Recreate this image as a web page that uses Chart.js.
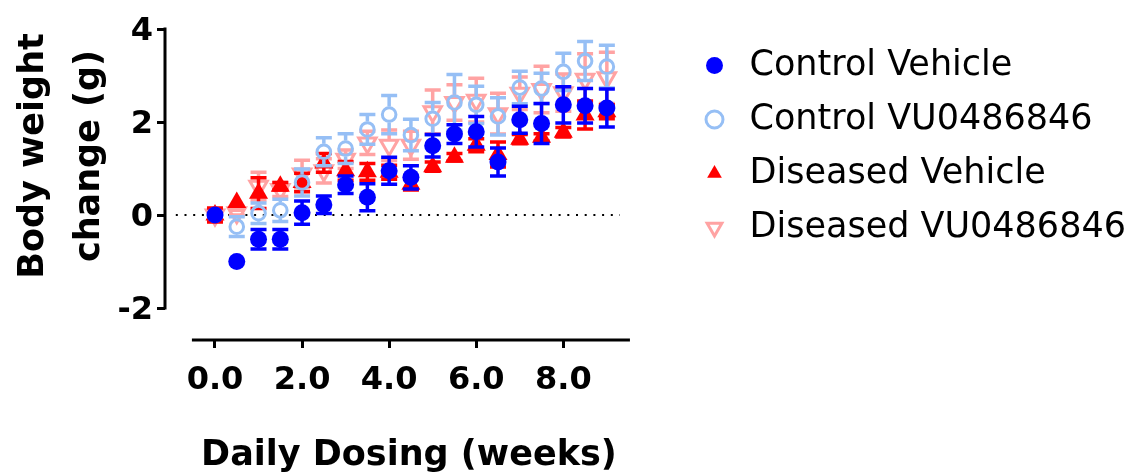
<!DOCTYPE html>
<html>
<head>
<meta charset="utf-8">
<script src="https://cdn.jsdelivr.net/npm/chart.js@4.4.1/dist/chart.umd.min.js"></script>
<style>
  html, body { margin: 0; padding: 0; background: #fff; }
  .chart-wrapper { position: relative; width: 1132px; height: 473px; }
</style>
</head>
<body>
<div class="chart-wrapper"><canvas id="weight-chart"></canvas></div>
<script>
// weeks of daily dosing
const weeks = [0, 0.5, 1, 1.5, 2, 2.5, 3, 3.5, 4, 4.5, 5, 5.5, 6, 6.5, 7, 7.5, 8, 8.5, 9];

// mean body weight change (g) and SEM
const ctrlVehicleMean = [0, -1.0, -0.52, -0.52, 0.05, 0.22, 0.65, 0.38, 0.95, 0.81, 1.49, 1.74, 1.79, 1.14, 2.05, 1.97, 2.37, 2.35, 2.30];
const ctrlVehicleSem = [0, 0, 0.21, 0.21, 0.25, 0.19, 0.19, 0.29, 0.29, 0.25, 0.24, 0.2, 0.33, 0.3, 0.29, 0.43, 0.39, 0.37, 0.41];

const ctrlDrugMean = [0, -0.25, 0.04, 0.10, 0.70, 1.36, 1.43, 1.84, 2.16, 1.72, 2.07, 2.42, 2.37, 2.12, 2.74, 2.72, 3.08, 3.31, 3.19];
const ctrlDrugSem = [0, 0.21, 0.22, 0.24, 0.29, 0.30, 0.32, 0.32, 0.41, 0.34, 0.35, 0.6, 0.4, 0.4, 0.35, 0.33, 0.4, 0.42, 0.46];

const disVehicleMean = [0, 0.27, 0.47, 0.62, 0.70, 1.12, 0.95, 0.93, 0.92, 0.66, 1.04, 1.24, 1.50, 1.30, 1.63, 1.67, 1.78, 2.15, 2.22];
const disVehicleSem = [0.15, 0, 0.33, 0.08, 0.2, 0.2, 0.2, 0.18, 0.15, 0.12, 0.1, 0.08, 0.14, 0.27, 0.1, 0.08, 0.1, 0.3, 0.15];

const disDrugMean = [0, 0.05, 0.62, 0.55, 0.88, 0.95, 1.20, 1.55, 1.50, 1.50, 2.22, 2.42, 2.47, 2.18, 2.62, 2.70, 2.63, 2.92, 2.95];
const disDrugSem = [0.1, 0.05, 0.3, 0.15, 0.3, 0.26, 0.2, 0.25, 0.33, 0.3, 0.47, 0.38, 0.47, 0.44, 0.35, 0.5, 0.4, 0.55, 0.55];

const seriesNames = ["Control Vehicle", "Control VU0486846", "Diseased Vehicle", "Diseased VU0486846"];
const xTicks = [0, 2, 4, 6, 8];
const yTicks = [4, 2, 0, -2];
const xTitle = "Daily Dosing (weeks)";
const yTitle = ["Body weight", "change (g)"];

const FONT = "'DejaVu Sans', Verdana, sans-serif";
const BLUE = "#0000ff";
const LIGHT_BLUE = "#96bff5";
const RED = "#ff0000";
const PINK = "#ffa3a3";

const makeSet = (label, means, sems, style) => ({
  label,
  data: weeks.map((w, i) => ({ x: w, y: means[i] })),
  sem: sems,
  ...style
});

const datasets = [
  makeSet(seriesNames[0], ctrlVehicleMean, ctrlVehicleSem, {
    pointStyle: "circle", pointRadius: 8.5, pointBackgroundColor: BLUE,
    pointBorderColor: BLUE, pointBorderWidth: 0, gapUp: 0, gapDown: 0
  }),
  makeSet(seriesNames[1], ctrlDrugMean, ctrlDrugSem, {
    pointStyle: "circle", pointRadius: 6.8, pointBackgroundColor: "rgba(0,0,0,0)",
    pointBorderColor: LIGHT_BLUE, pointBorderWidth: 3, gapUp: 8, gapDown: 8
  }),
  makeSet(seriesNames[2], disVehicleMean, disVehicleSem, {
    pointStyle: "triangle", pointRadius: 11, pointBackgroundColor: RED,
    pointBorderColor: RED, pointBorderWidth: 0, gapUp: 0, gapDown: 0
  }),
  makeSet(seriesNames[3], disDrugMean, disDrugSem, {
    pointStyle: "triangle", pointRotation: 180, pointRadius: 10, pointBackgroundColor: "rgba(0,0,0,0)",
    pointBorderColor: PINK, pointBorderWidth: 3, gapUp: 5, gapDown: 10
  })
];

// SEM bars, drawn just under each dataset's own markers
const errorBars = {
  id: "errorBars",
  beforeDatasetDraw(chart, args) {
    const ds = chart.data.datasets[args.index];
    const { x, y } = chart.scales;
    const ctx = chart.ctx;
    ctx.save();
    ctx.strokeStyle = ds.pointBorderColor;
    ctx.lineWidth = 3.5;
    ds.data.forEach((p, i) => {
      const e = ds.sem[i];
      if (!e) return;
      const px = x.getPixelForValue(p.x);
      const top = y.getPixelForValue(p.y + e);
      const mid = y.getPixelForValue(p.y);
      const bot = y.getPixelForValue(p.y - e);
      ctx.beginPath();
      if (mid - ds.gapUp > top) { ctx.moveTo(px, top); ctx.lineTo(px, mid - ds.gapUp); }
      if (mid + ds.gapDown < bot) { ctx.moveTo(px, mid + ds.gapDown); ctx.lineTo(px, bot); }
      ctx.moveTo(px - 8, top); ctx.lineTo(px + 8, top);
      ctx.moveTo(px - 8, bot); ctx.lineTo(px + 8, bot);
      ctx.stroke();
    });
    ctx.restore();
  }
};

// offset axes in the Prism style, zero reference line and axis titles
const prismAxes = {
  id: "prismAxes",
  beforeDatasetsDraw(chart) {
    const { ctx, chartArea, scales: { x, y } } = chart;
    ctx.save();
    ctx.strokeStyle = "#000";
    ctx.lineWidth = 2;
    ctx.setLineDash([2, 6.7]);
    ctx.beginPath();
    ctx.moveTo(x.getPixelForValue(-0.9), y.getPixelForValue(0));
    ctx.lineTo(x.getPixelForValue(9.3), y.getPixelForValue(0));
    ctx.stroke();
    ctx.setLineDash([]);
    ctx.lineWidth = 3;
    ctx.beginPath();
    ctx.moveTo(chartArea.left, y.getPixelForValue(yTicks[0]) - 1.5);
    ctx.lineTo(chartArea.left, y.getPixelForValue(yTicks[yTicks.length - 1]) + 1.5);
    ctx.moveTo(x.getPixelForValue(-0.53), chartArea.bottom);
    ctx.lineTo(x.getPixelForValue(9.53), chartArea.bottom);
    ctx.stroke();
    ctx.restore();
  },
  afterDraw(chart) {
    const { ctx, scales: { x } } = chart;
    ctx.save();
    ctx.fillStyle = "#000";
    ctx.font = "bold 35px " + FONT;
    ctx.textAlign = "center";
    ctx.textBaseline = "alphabetic";
    [43, 99].forEach((bx, i) => {
      ctx.save();
      ctx.translate(bx, 156);
      ctx.rotate(-Math.PI / 2);
      ctx.fillText(yTitle[i], 0, 0);
      ctx.restore();
    });
    const cx = (x.getPixelForValue(-0.53) + x.getPixelForValue(9.53)) / 2 - 2;
    ctx.fillText(xTitle, cx, 465);
    ctx.restore();
  }
};

const tickFont = { family: FONT, size: 32, weight: "bold" };
const tickGrid = { display: true, drawOnChartArea: false, drawTicks: true, tickLength: 8, color: "#000", lineWidth: 3 };

document.addEventListener("DOMContentLoaded", () => {
  const canvas = document.querySelector("#weight-chart");

  new Chart(canvas, {
    type: "scatter",
    data: { datasets },
    plugins: [prismAxes, errorBars],
    options: {
      responsive: true,
      maintainAspectRatio: false,
      animation: false,
      events: [],
      layout: { padding: { top: 29, left: 0, right: 0, bottom: 0 } },
      plugins: {
        legend: {
          position: "right",
          align: "start",
          maxWidth: 454,
          labels: {
            usePointStyle: true,
            boxWidth: 35,
            boxHeight: 12,
            padding: 19,
            color: "#000",
            font: { family: FONT, size: 35 }
          }
        },
        tooltip: { enabled: false }
      },
      scales: {
        x: {
          type: "linear",
          min: -1.148,
          max: 10.634,
          afterFit: (s) => { s.height = 133; },
          afterBuildTicks: (s) => { s.ticks = xTicks.map((v) => ({ value: v })); },
          grid: tickGrid,
          border: { display: false },
          ticks: {
            padding: 13, color: "#000", font: tickFont, maxRotation: 0, autoSkip: false,
            callback: (v) => Number(v).toFixed(1)
          }
        },
        y: {
          type: "linear",
          min: -2.688,
          max: 4,
          afterFit: (s) => { s.width = 165; },
          afterBuildTicks: (s) => { s.ticks = yTicks.map((v) => ({ value: v })); },
          grid: tickGrid,
          border: { display: false },
          ticks: {
            padding: 4, labelOffset: 3, color: "#000", font: tickFont, autoSkip: false,
            callback: (v) => String(v)
          }
        }
      }
    }
  });
});
</script>
</body>
</html>
